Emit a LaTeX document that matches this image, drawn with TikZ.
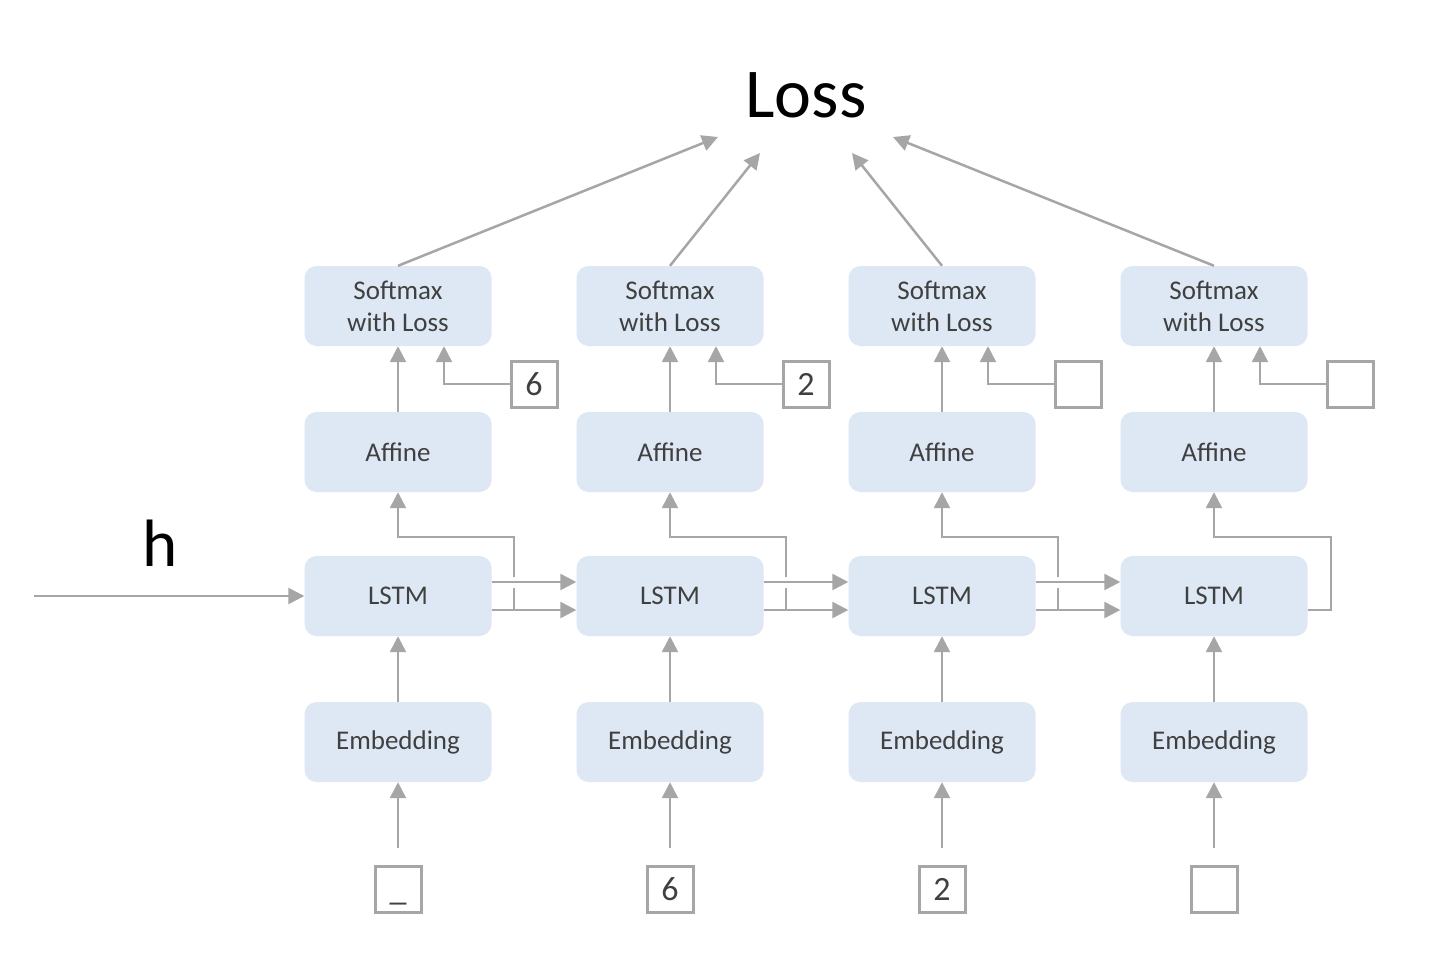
\documentclass[tikz,border=0pt]{standalone}
\usepackage{fontspec}
\setmainfont{Carlito}
\usetikzlibrary{arrows.meta,calc}
\definecolor{layerblue}{HTML}{DEE8F5}
\definecolor{arrowgray}{HTML}{A6A6A6}
\definecolor{textgray}{HTML}{404040}
\tikzset{
  layer/.style={rounded corners=12pt, fill=layerblue, minimum width=187pt, minimum height=80pt,
    inner sep=0pt, text=textgray, align=center, font=\fontsize{27}{32}\selectfont},
  tokbox/.style={draw=arrowgray, line width=3pt, minimum size=46pt, inner sep=0pt,
    text height=22pt, text depth=0pt, text=textgray, font=\fontsize{34}{34}\selectfont},
  wire/.style={draw=arrowgray, line width=2.5pt},
  arr/.style={wire, -{Triangle[length=16pt,width=16pt]}}
}

\begin{document}
\begin{tikzpicture}[x=1pt,y=-1pt]
        \useasboundingbox (0,0) rectangle (1454,980);

        \node (loss) at (806,95) {\fontsize{70}{70}\selectfont Loss};
        \node (h) at (160,543) {\fontsize{67}{67}\selectfont h};

        \node[layer] (sm1) at (398,306) {Softmax\\with Loss};
        \node[layer] (sm2) at (670,306) {Softmax\\with Loss};
        \node[layer] (sm3) at (942,306) {Softmax\\with Loss};
        \node[layer] (sm4) at (1214,306) {Softmax\\with Loss};

        \node[layer] (af1) at (398,452) {Affine};
        \node[layer] (af2) at (670,452) {Affine};
        \node[layer] (af3) at (942,452) {Affine};
        \node[layer] (af4) at (1214,452) {Affine};

        \node[layer] (lstm1) at (398,596) {LSTM};
        \node[layer] (lstm2) at (670,596) {LSTM};
        \node[layer] (lstm3) at (942,596) {LSTM};
        \node[layer] (lstm4) at (1214,596) {LSTM};

        \node[layer] (emb1) at (398,742) {Embedding};
        \node[layer] (emb2) at (670,742) {Embedding};
        \node[layer] (emb3) at (942,742) {Embedding};
        \node[layer] (emb4) at (1214,742) {Embedding};

        \node[tokbox] (t1) at (534,384) {6};
        \node[tokbox] (t2) at (806,384) {2};
        \node[tokbox] (t3) at (1078,384) {};
        \node[tokbox] (t4) at (1350,384) {};

        \node[tokbox] (in1) at (398,889) {\_};
        \node[tokbox] (in2) at (670,889) {6};
        \node[tokbox] (in3) at (942,889) {2};
        \node[tokbox] (in4) at (1214,889) {};

        % free ends
        \coordinate (hin) at (34,596);
        \coordinate (l1) at (718,137);
        \coordinate (l2) at (760,153);
        \coordinate (l3) at (852,153);
        \coordinate (l4) at (893,137);

        % to the loss
        \draw[arr] (sm1.north) -- (l1);
        \draw[arr] (sm2.north) -- (l2);
        \draw[arr] (sm3.north) -- (l3);
        \draw[arr] (sm4.north) -- (l4);

        % affine and targets into softmax
        \draw[arr] (af1) -- (sm1);
        \draw[arr] (af2) -- (sm2);
        \draw[arr] (af3) -- (sm3);
        \draw[arr] (af4) -- (sm4);
        \draw[arr] (t1.west) -| ([xshift=46pt]sm1.south);
        \draw[arr] (t2.west) -| ([xshift=46pt]sm2.south);
        \draw[arr] (t3.west) -| ([xshift=46pt]sm3.south);
        \draw[arr] (t4.west) -| ([xshift=46pt]sm4.south);

        % hidden state
        \draw[arr] (hin) -- (lstm1.west);
        \draw[arr] ([yshift=14pt]lstm1.east) -- ([yshift=14pt]lstm2.west);
        \draw[arr] ([yshift=-14pt]lstm1.east) -- ([yshift=-14pt]lstm2.west);
        \draw[arr] ([yshift=14pt]lstm2.east) -- ([yshift=14pt]lstm3.west);
        \draw[arr] ([yshift=-14pt]lstm2.east) -- ([yshift=-14pt]lstm3.west);
        \draw[arr] ([yshift=14pt]lstm3.east) -- ([yshift=14pt]lstm4.west);
        \draw[arr] ([yshift=-14pt]lstm3.east) -- ([yshift=-14pt]lstm4.west);

        % lstm up to affine
        \draw[wire] (514,610) -- (514,588);
        \draw[arr] (514,577) -- (514,537) -| (af1.south);
        \draw[wire] (786,610) -- (786,588);
        \draw[arr] (786,577) -- (786,537) -| (af2.south);
        \draw[wire] (1058,610) -- (1058,588);
        \draw[arr] (1058,577) -- (1058,537) -| (af3.south);
        \draw[arr] ([yshift=-14pt]lstm4.east) -| (1331,537) -| (af4.south);

        % embeddings
        \draw[arr] (emb1) -- (lstm1);
        \draw[arr] (emb2) -- (lstm2);
        \draw[arr] (emb3) -- (lstm3);
        \draw[arr] (emb4) -- (lstm4);
        \draw[arr,shorten <=17pt] (in1.north) -- (emb1.south);
        \draw[arr,shorten <=17pt] (in2.north) -- (emb2.south);
        \draw[arr,shorten <=17pt] (in3.north) -- (emb3.south);
        \draw[arr,shorten <=17pt] (in4.north) -- (emb4.south);
      \end{tikzpicture}
\end{document}
